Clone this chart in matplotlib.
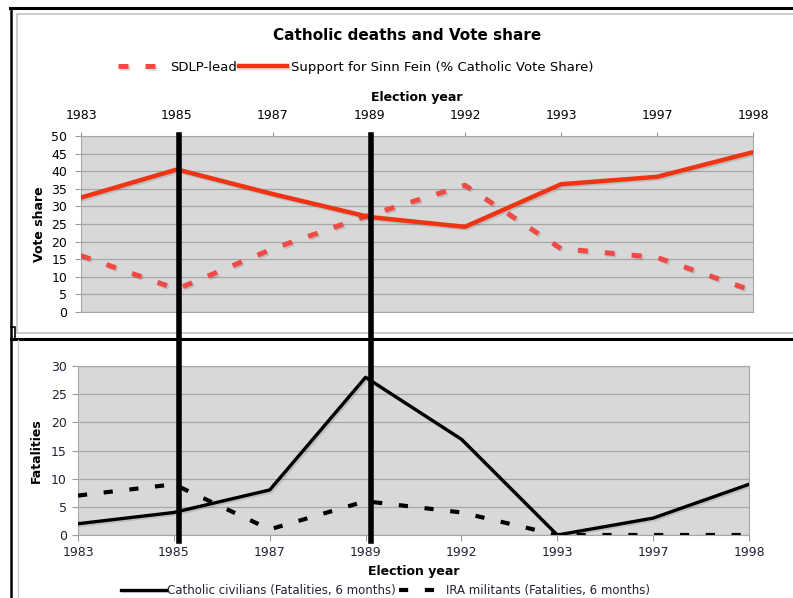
import matplotlib
matplotlib.use("Agg")
import matplotlib.pyplot as plt
import matplotlib.patheffects as pe
from matplotlib.lines import Line2D

# data
years = ['1983', '1985', '1987', '1989', '1992', '1993', '1997', '1998']
sdlp_lead = [16, 6.5, 18, 27.5, 36, 18, 15.5, 6]
sinn_fein = [32.5, 40.5, 33.5, 27, 24.2, 36.3, 38.4, 45.4]
civilians = [2, 4, 8, 28, 17, 0, 3, 9]
ira = [7, 9, 1, 6, 4, 0, 0, 0]
marked_years = ['1985', '1989']

W, H = 793, 598
plt.rcParams['font.family'] = 'DejaVu Sans'
fig = plt.figure(figsize=(W / 100, H / 100), dpi=100)
fig.patch.set_facecolor('white')


def box(l, t, r, b):
    return [l / W, 1 - b / H, (r - l) / W, (b - t) / H]


def fline(xs, ys, **kw):
    fig.add_artist(Line2D([x / W for x in xs], [1 - y / H for y in ys], **kw))


# frames of the two pasted charts
fline([10, 793], [8, 8], color='black', lw=2.2)
fline([11, 11], [8, 598], color='black', lw=1.8)
fline([17, 793], [14, 14], color='#c8c8c8', lw=1.3)
fline([17, 17], [14, 333], color='#c8c8c8', lw=1.3)
fline([17, 793], [333, 333], color='#c8c8c8', lw=1.3)
fline([11, 793], [338.5, 338.5], color='black', lw=2.2)
fline([11, 15, 15], [327, 327, 338], color='black', lw=1.2)
fline([18, 18], [340, 598], color='#d0d0d0', lw=1.0)

x = list(range(len(years)))
shadow = [pe.SimpleLineShadow(offset=(1.2, -1.2), alpha=0.12), pe.Normal()]
grey = '#9a9a9a'

# ---- top chart: vote share
ax1 = fig.add_axes(box(81, 136, 753, 312))
ax1.set_facecolor('#d8d8d8')
ax1.plot(x, sdlp_lead, color='#ef4a45', lw=3.6, dashes=(2.0, 3.4),
         solid_capstyle='butt', dash_capstyle='butt', label='SDLP-lead',
         path_effects=shadow, zorder=3)
ax1.plot(x, sinn_fein, color='#ee3412', lw=3.2, label='Support for Sinn Fein (% Catholic Vote Share)',
         path_effects=shadow, zorder=3)
ax1.set_xlim(0, len(years) - 1)
ax1.set_ylim(0, 50)
ax1.set_yticks(range(0, 51, 5))
ax1.set_xticks(x)
ax1.set_xticklabels(years)
ax1.xaxis.tick_top()
ax1.xaxis.set_label_position('top')
ax1.set_xlabel('Election year', fontsize=9, fontweight='bold', labelpad=6)
ax1.set_ylabel('Vote share', fontsize=9, fontweight='bold', labelpad=4)
ax1.tick_params(axis='x', length=3, color=grey, pad=7, labelsize=9)
ax1.tick_params(axis='y', length=4, color=grey, pad=6, labelsize=9)
ax1.grid(axis='y', color='#a8a8a8', lw=0.9)
ax1.set_axisbelow(True)
for s in ax1.spines.values():
    s.set_color('#a8a8a8')
ax1.set_title('Catholic deaths and Vote share', fontsize=11, fontweight='bold', pad=69, x=0.485)
ax1.legend(loc='lower center', bbox_to_anchor=(0.409, 1.287), ncol=2, frameon=False,
           fontsize=9.5, handlelength=3.6, handletextpad=0.3, columnspacing=0.2)

# ---- bottom chart: fatalities
ax2 = fig.add_axes(box(78, 366, 749, 535))
ax2.set_facecolor('#d8d8d8')
ax2.plot(x, civilians, color='black', lw=2.4, label='Catholic civilians (Fatalities, 6 months)',
         path_effects=shadow, zorder=3)
ax2.plot(x, ira, color='black', lw=3.0, dashes=(2.2, 4.0), dash_capstyle='butt',
         label='IRA militants (Fatalities, 6 months)', zorder=3)
ax2.set_xlim(0, len(years) - 1)
ax2.set_ylim(0, 30)
ax2.set_yticks(range(0, 31, 5))
ax2.set_xticks(x)
ax2.set_xticklabels(years)
ax2.set_xlabel('Election year', fontsize=9, fontweight='bold', labelpad=4)
ax2.set_ylabel('Fatalities', fontsize=9, fontweight='bold', labelpad=6)
ax2.tick_params(axis='both', length=4, color=grey, pad=4, labelsize=9, labelcolor='#222233')
ax2.grid(axis='y', color='#a8a8a8', lw=0.9)
ax2.set_axisbelow(True)
for s in ax2.spines.values():
    s.set_color('#a8a8a8')
ax2.legend(loc='upper center', bbox_to_anchor=(0.458, -0.225), ncol=2, frameon=False,
           fontsize=8.5, handlelength=3.8, handletextpad=0.1, columnspacing=0.3,
           labelcolor='#222233')

# vertical markers at 1985 and 1989 reaching down through both charts
ax1.set_zorder(5)
for yr in marked_years:
    ax1.axvline(years.index(yr) + 0.02, ymin=-1.3, ymax=1.005, color='black', lw=4,
                clip_on=False, zorder=6)

fig.savefig('out.png', dpi=100)
